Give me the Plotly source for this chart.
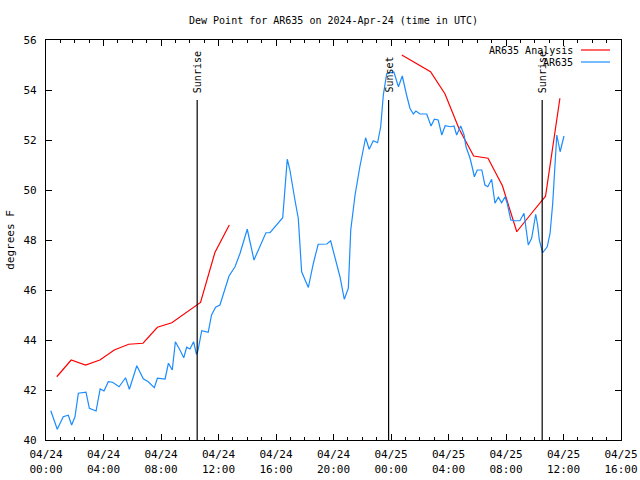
import plotly.graph_objects as go

# ---------------- data ----------------
obs_times = [
    "2024-04-24 00:20", "2024-04-24 00:47", "2024-04-24 01:12", "2024-04-24 01:33", "2024-04-24 01:47",
    "2024-04-24 02:01", "2024-04-24 02:15", "2024-04-24 02:47", "2024-04-24 03:01", "2024-04-24 03:29",
    "2024-04-24 03:46", "2024-04-24 04:02", "2024-04-24 04:20", "2024-04-24 04:38", "2024-04-24 05:05",
    "2024-04-24 05:32", "2024-04-24 05:48", "2024-04-24 06:19", "2024-04-24 06:46", "2024-04-24 07:07",
    "2024-04-24 07:32", "2024-04-24 07:45", "2024-04-24 08:17", "2024-04-24 08:31", "2024-04-24 08:47",
    "2024-04-24 09:00", "2024-04-24 09:19", "2024-04-24 09:35", "2024-04-24 09:47", "2024-04-24 10:01",
    "2024-04-24 10:16", "2024-04-24 10:28", "2024-04-24 10:34", "2024-04-24 10:50", "2024-04-24 11:17",
    "2024-04-24 11:31", "2024-04-24 11:48", "2024-04-24 12:06", "2024-04-24 12:44", "2024-04-24 13:09",
    "2024-04-24 13:30", "2024-04-24 14:00", "2024-04-24 14:28", "2024-04-24 14:53", "2024-04-24 15:18",
    "2024-04-24 15:35", "2024-04-24 16:28", "2024-04-24 16:47", "2024-04-24 16:58", "2024-04-24 17:19",
    "2024-04-24 17:33", "2024-04-24 17:47", "2024-04-24 18:15", "2024-04-24 18:36", "2024-04-24 18:56",
    "2024-04-24 19:32", "2024-04-24 19:48", "2024-04-24 20:27", "2024-04-24 20:45", "2024-04-24 21:02",
    "2024-04-24 21:12", "2024-04-24 21:30", "2024-04-24 21:50", "2024-04-24 22:14", "2024-04-24 22:29",
    "2024-04-24 22:46", "2024-04-24 23:04", "2024-04-24 23:17", "2024-04-24 23:28", "2024-04-24 23:42",
    "2024-04-25 00:12", "2024-04-25 00:31", "2024-04-25 00:47", "2024-04-25 01:05", "2024-04-25 01:19",
    "2024-04-25 01:33", "2024-04-25 01:44", "2024-04-25 02:01", "2024-04-25 02:29", "2024-04-25 02:47",
    "2024-04-25 03:01", "2024-04-25 03:17", "2024-04-25 03:32", "2024-04-25 03:46", "2024-04-25 04:09",
    "2024-04-25 04:23", "2024-04-25 04:34", "2024-04-25 04:51", "2024-04-25 05:05", "2024-04-25 05:13",
    "2024-04-25 05:30", "2024-04-25 05:40", "2024-04-25 05:48", "2024-04-25 06:00", "2024-04-25 06:19",
    "2024-04-25 06:32", "2024-04-25 06:44", "2024-04-25 07:00", "2024-04-25 07:14", "2024-04-25 07:28",
    "2024-04-25 07:42", "2024-04-25 07:56", "2024-04-25 08:05", "2024-04-25 08:20", "2024-04-25 08:34",
    "2024-04-25 08:58", "2024-04-25 09:15", "2024-04-25 09:33", "2024-04-25 09:47", "2024-04-25 10:04",
    "2024-04-25 10:12", "2024-04-25 10:19", "2024-04-25 10:33", "2024-04-25 10:52", "2024-04-25 11:04",
    "2024-04-25 11:15", "2024-04-25 11:25", "2024-04-25 11:32", "2024-04-25 11:46", "2024-04-25 12:02",
]
obs_dewpoint = [
    41.17, 40.43, 40.93, 40.99, 40.60,
    40.93, 41.87, 41.91, 41.27, 41.16,
    42.04, 41.96, 42.33, 42.31, 42.13,
    42.49, 42.03, 42.97, 42.45, 42.33,
    42.09, 42.47, 42.44, 43.07, 42.80,
    43.93, 43.60, 43.29, 43.71, 43.64,
    43.93, 43.43, 43.57, 44.37, 44.31,
    45.00, 45.31, 45.40, 46.56, 46.93,
    47.47, 48.43, 47.20, 47.73, 48.29,
    48.29, 48.89, 51.23, 50.80, 49.60,
    48.87, 46.73, 46.10, 47.07, 47.83,
    47.84, 47.97, 46.53, 45.63, 46.07,
    48.40, 49.80, 50.93, 52.09, 51.63,
    51.97, 51.89, 52.53, 53.80, 54.65,
    54.72, 54.13, 54.56, 53.80, 53.27,
    53.04, 53.16, 53.04, 53.04, 52.56,
    52.83, 52.80, 52.20, 52.57, 52.53,
    52.56, 52.20, 52.56, 52.20, 51.73,
    51.27, 50.87, 50.53, 50.80, 50.80,
    50.20, 50.13, 50.43, 49.47, 49.71,
    49.49, 49.73, 49.47, 48.80, 48.77,
    48.77, 49.07, 47.80, 48.07, 49.03,
    48.60, 48.00, 47.49, 47.73, 48.27,
    49.47, 51.33, 52.20, 51.53, 52.16,
]

anl_times_day1 = [
    "2024-04-24 00:45", "2024-04-24 01:45", "2024-04-24 02:45", "2024-04-24 03:45", "2024-04-24 04:45",
    "2024-04-24 05:45", "2024-04-24 06:45", "2024-04-24 07:45", "2024-04-24 08:45", "2024-04-24 09:45",
    "2024-04-24 10:45", "2024-04-24 11:45", "2024-04-24 12:45",
]
anl_dewpoint_day1 = [42.53, 43.20, 43.00, 43.20, 43.60, 43.83, 43.87, 44.51, 44.69, 45.09, 45.50, 47.50, 48.60]

anl_times_day2 = [
    "2024-04-25 00:45", "2024-04-25 01:45", "2024-04-25 02:45", "2024-04-25 03:45", "2024-04-25 04:45",
    "2024-04-25 05:45", "2024-04-25 06:45", "2024-04-25 07:45", "2024-04-25 08:45", "2024-04-25 09:45",
    "2024-04-25 10:45", "2024-04-25 11:45",
]
anl_dewpoint_day2 = [55.40, 55.07, 54.73, 53.85, 52.43, 51.36, 51.27, 50.17, 48.33, 49.05, 49.75, 53.67]

event_times = ["2024-04-24 10:31", "2024-04-24 23:50", "2024-04-25 10:31"]
event_labels = ["Sunrise", "Sunset", "Sunrise"]

x_range = ["2024-04-24 00:00", "2024-04-25 16:00"]
y_range = [40, 56]

title_text = "Dew Point for AR635 on 2024-Apr-24 (time in UTC)"
y_title = "degrees F"
series_names = ["AR635 Analysis", "AR635"]

# ---------------- figure ----------------
FONT = "DejaVu Sans Mono"
RED = "#ff0000"
BLUE = "#1a8cff"
LW = 1.2
SMALL = 10
TICK = 11

fig = go.Figure()
fig.add_trace(go.Scatter(x=anl_times_day1 + [None] + anl_times_day2,
                         y=anl_dewpoint_day1 + [None] + anl_dewpoint_day2,
                         mode="lines", line=dict(color=RED, width=LW),
                         name=series_names[0], showlegend=False, connectgaps=False))
fig.add_trace(go.Scatter(x=obs_times, y=obs_dewpoint, mode="lines",
                         line=dict(color=BLUE, width=LW), name=series_names[1], showlegend=False))

# event lines
event_top = 53.6
for t, lab in zip(event_times, event_labels):
    fig.add_shape(type="line", x0=t, x1=t, y0=y_range[0], y1=event_top,
                  xref="x", yref="y", line=dict(color="black", width=1.2))
    fig.add_annotation(x=t, y=event_top, xref="x", yref="y", text=lab, textangle=-90,
                       showarrow=False, xanchor="center", yanchor="bottom", yshift=5,
                       font=dict(family=FONT, size=SMALL, color="black"))

# custom legend (text left, line sample right, gnuplot style)
L, R, T, B = 46, 19, 40, 40
W, H = 640, 480
pw, ph = W - L - R, H - T - B
def px_x(px):
    return (px - L) / pw
def px_y(py):
    return (H - B - py) / ph
for name, col, py in [(series_names[0], RED, 50), (series_names[1], BLUE, 62)]:
    fig.add_annotation(x=px_x(575), y=px_y(py), xref="paper", yref="paper", text=name,
                       showarrow=False, xanchor="right", yanchor="middle",
                       font=dict(family=FONT, size=SMALL, color="black"))
    fig.add_shape(type="line", x0=px_x(581), x1=px_x(610), y0=px_y(py), y1=px_y(py),
                  xref="paper", yref="paper", line=dict(color=col, width=LW))

fig.update_layout(
    width=W, height=H,
    margin=dict(l=L, r=R, t=T, b=B, pad=0, autoexpand=False),
    paper_bgcolor="white", plot_bgcolor="white",
    font=dict(family=FONT, size=TICK, color="black"),
    title=dict(text=title_text, x=(L + pw / 2) / W, xanchor="center",
               y=1 - 20 / H, yanchor="middle", font=dict(family=FONT, size=SMALL, color="black")),
    showlegend=False,
)
fig.update_xaxes(
    type="date", range=x_range, automargin=False,
    tick0="2024-04-24 00:00", dtick=4 * 3600 * 1000,
    tickformat="%m/%d<br>%H:%M",
    ticks="inside", ticklen=6, tickcolor="black",
    minor=dict(dtick=3600 * 1000, ticks="inside", ticklen=3, tickcolor="black", showgrid=False),
    showline=True, linecolor="black", linewidth=1.2, mirror="ticks",
    showgrid=False, zeroline=False,
    tickfont=dict(family=FONT, size=TICK, color="black"),
    ticklabelstandoff=4,
)
fig.update_yaxes(
    range=y_range, dtick=2, tick0=40, automargin=False,
    ticks="inside", ticklen=6, tickcolor="black",
    showline=True, linecolor="black", linewidth=1.2, mirror="ticks",
    showgrid=False, zeroline=False,
    tickfont=dict(family=FONT, size=TICK, color="black"),
    ticklabelstandoff=6,
    title=dict(text=y_title, standoff=6, font=dict(family=FONT, size=TICK, color="black")),
)

fig.write_html("out.html", config={"displayModeBar": False},
               post_script="document.body.style.margin='0';document.body.style.padding='0';")
